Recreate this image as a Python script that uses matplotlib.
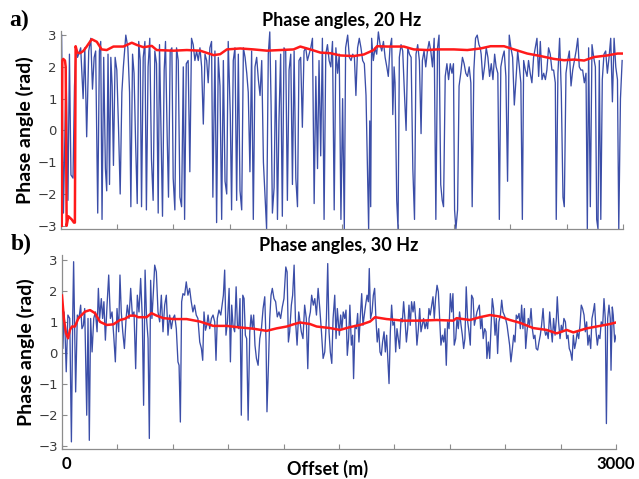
import matplotlib
matplotlib.use("Agg")
import matplotlib.pyplot as plt

# ---------------- data ----------------
# Panel a: 20 Hz, raw phase (blue)
offset_a = [3, 13, 27, 37, 45, 53, 64, 72, 80, 88,
            94, 105, 118, 127, 137, 148, 159, 168, 177, 185, 196, 205, 212, 219, 228, 237, 244, 251, 259, 266,
            273, 280, 289, 298, 307, 316, 325, 333, 346, 357, 366, 373, 382, 390, 398, 407, 415, 423, 430, 439,
            448, 456, 465, 474, 483, 492, 501, 510, 519, 526, 535, 542, 551, 558, 567, 574, 583, 592, 599, 608,
            617, 626, 635, 644, 653, 660, 669, 679, 688, 697, 706, 715, 724, 733,
            742, 751, 760, 769, 778, 786, 795, 804, 811, 822, 831, 840, 849, 858, 867, 876, 885, 893, 904, 911,
            920, 929, 938, 947, 956, 965, 974, 983, 992, 1000, 1009, 1018, 1027, 1036, 1045, 1054, 1063, 1072,
            1081, 1089, 1098, 1107, 1115, 1122, 1129, 1138, 1147, 1156, 1164, 1173, 1182, 1191, 1200, 1209, 1218,
            1227, 1236, 1245, 1254, 1263, 1271, 1280, 1289, 1298, 1307, 1316, 1325, 1334, 1343, 1352, 1361, 1370,
            1378, 1387, 1396, 1405, 1414, 1423, 1432, 1441, 1450, 1459, 1468, 1477,
            1486, 1495, 1504, 1513, 1520, 1531, 1540, 1549, 1558, 1567, 1575, 1584, 1593, 1602, 1611, 1620, 1629,
            1638, 1643, 1649, 1654, 1659, 1668, 1677, 1686, 1695, 1704, 1713, 1722, 1731, 1740, 1748, 1757, 1766,
            1772, 1779, 1784, 1793, 1800, 1807, 1816, 1825, 1834, 1843, 1852, 1861, 1870, 1879, 1888, 1896, 1905,
            1914, 1923, 1930, 1939, 1948, 1957, 1966, 1975, 1984, 1993, 2002, 2011, 2019, 2028, 2036, 2043, 2052,
            2061, 2070, 2079, 2088, 2096, 2102, 2109, 2118, 2126, 2135, 2144, 2153, 2162, 2171, 2180, 2189, 2196,
            2205, 2214, 2223, 2232, 2239,
            2244, 2253, 2262, 2271, 2280, 2289, 2298, 2307, 2316, 2324, 2333, 2341, 2349, 2358, 2367, 2376, 2385,
            2394, 2403, 2412, 2421, 2430, 2439, 2448, 2456, 2464, 2471, 2480, 2489, 2497, 2506, 2515, 2524, 2533,
            2542, 2551, 2560, 2569, 2578, 2587, 2595, 2604, 2613, 2622, 2631, 2640, 2645, 2654, 2663, 2672, 2681,
            2688, 2697, 2706, 2715, 2724, 2733, 2742, 2751, 2760, 2768, 2777, 2786, 2795, 2804, 2811, 2818, 2827,
            2836, 2845, 2854, 2861, 2868, 2875, 2883, 2891, 2900, 2909, 2918, 2927, 2936, 2945, 2954, 2963, 2972,
            2979, 2988, 2997]
phase_a = [3.0, -2.6, 1.9, -2.2, 2.4, -1.4, -1.5, 1.4, 2.6, 2.3,
           2.4, 2.6, 1.0, 2.6, -0.2, 2.5, 2.9, 1.3, 2.3, 2.5, -2.6, 2.5, 2.8, -2.8, 2.3, -1.2, -1.9, 2.4, -1.7, 2.3,
           1.4, -1.1, 2.3, 1.9, 0.1, -2.0, 1.2, 2.0, 3.0, 2.6, 1.2, -2.4, 2.4, 1.8, -0.3, -2.3, 2.8, 2.2, -2.4, 2.3,
           2.8, -2.5, 2.0, 2.9, -0.9, -2.2, 2.5, 2.1, -2.6, 2.7, -0.3, -2.7, 1.9, 2.8, -0.2, -2.1, 2.5, 2.6, -1.5, -2.5,
           2.6, 2.2, -2.1, -2.4, 2.0, -2.8, 2.1, 2.2, -1.3, 2.9, 2.7, 2.2, 2.5, 2.2,
           2.6, 2.0, 0.2, 2.4, 2.2, 1.5, 2.6, 2.8, -2.1, 2.5, -2.9, 2.3, 1.4, -2.8, 2.2, -1.6, -2.0, 2.8, 0.5, -2.5,
           2.2, 2.6, -2.2, 2.4, -1.9, -2.5, 2.6, 2.3, 1.8, 1.2, -1.3, 2.5, -2.8, 2.0, 2.3, 1.6, 1.1, 2.2,
           -1.0, -2.0, -3.1, 2.4, 3.1, 0.8, -2.6, -1.8, 2.2, -2.8, 0.3, 2.4, -2.7, 2.6, 2.5, -2.2, 1.9,
           2.4, -1.7, 2.5, -1.5, -2.4, 2.2, 2.3, 0.1, 2.5, 2.6, 2.2, 2.4, 2.6, 2.9, -2.3, 1.7, -1.2,
           2.2, -0.8, 2.9, -2.8, 2.4, 2.7, 2.2, 2.0, 2.8, -2.5, 2.6, 1.8,
           2.4, -2.8, 1.0, -3.1, 2.6, 3.0, 2.3, 2.2, 2.4, 2.3, 1.1, 2.6, 2.9, 2.6, 2.2, 2.1, 1.1,
           -1.6, -3.1, 0.3, -2.4, 2.9, 2.2, 2.6, 2.4, 3.1, 2.7, 2.5, 2.8, 2.3, 2.0, 1.7, 2.6, 2.9,
           0.5, 2.0, 1.5, -2.2, -3.1, 2.3, 2.7, 2.5, 1.2, 0.0, 2.6, 2.4, 2.3, -1.2, -2.8, 2.4, 2.7,
           2.2, -0.1, 2.2, 2.5, 2.0, 2.5, 2.8, 2.5, 2.0, 2.9, -2.8, 2.6, 3.0, -1.7, -2.2, -2.4, 1.7,
           2.1, 1.6, 2.1, 1.8, 2.1, -2.5, -3.1, -2.5, 1.4, 1.8, 2.3, 2.1, 1.8, 1.7, 2.0, 1.5, -2.4,
           1.9, 2.9, 3.0, 2.7, 2.6,
           2.4, 1.6, 2.0, 2.6, 2.3, 1.7, 2.1, 1.6, 2.4, 2.0, 1.8, -2.8, 2.0, 2.3, 2.5, 1.7, -1.6,
           3.0, 2.6, 2.3, 0.8, 1.6, 2.5, 2.0, 1.5, -2.8, 2.2, 1.9, 1.7, 2.2, 1.8, 1.5, 2.3, 2.6,
           2.9, 1.7, 2.8, 1.6, 1.8, 1.6, 1.9, 2.6, 2.4, 1.9, 1.9, 1.5, -2.8, 1.8, 2.9, 1.2, -2.1,
           -2.4, 1.8, 2.2, 2.5, 1.4, 1.9, 2.2, 2.5, 2.9, 2.0, 1.9, 1.9, 1.5, 1.8, -3.1, 2.6, -2.4,
           2.7, 2.3, 2.0, -2.8, -3.1, 2.2, -2.8, 1.6, 2.4, 2.5, 1.8, 2.3, 2.9, 0.9, 2.9, 2.0, 1.6,
           -3.1, 1.0, 2.2]

# Panel a: smoothed phase (red)
offset_a_smooth = [4, 7, 12, 21, 25, 30, 39, 57, 69, 74, 78, 87, 101, 119, 137, 164, 191, 217, 244, 280, 333,
                   378, 405, 440, 485, 511, 601, 672, 743, 815, 850, 886, 957, 1028, 1100, 1171, 1242, 1278,
                   1331, 1385, 1439, 1492, 1563, 1617, 1670, 1688, 1742, 1831, 1884, 1956, 2009, 2098, 2170,
                   2241, 2294, 2366, 2419, 2490, 2562, 2633, 2687, 2740, 2794, 2847, 2918, 2972, 3000]
smooth_a = [-3.0, 2.2, 2.25, 2.2, 2.0, -3.0, -2.7, -2.8, -2.9, -2.9, 2.65, 2.45, 2.43, 2.5, 2.64, 2.87, 2.79,
            2.55, 2.53, 2.64, 2.64, 2.76, 2.69, 2.62, 2.66, 2.53, 2.51, 2.53, 2.51, 2.37, 2.40, 2.55, 2.58,
            2.55, 2.51, 2.53, 2.55, 2.64, 2.55, 2.45, 2.43, 2.36, 2.34, 2.39, 2.53, 2.65, 2.64, 2.64, 2.55,
            2.53, 2.55, 2.55, 2.53, 2.58, 2.65, 2.65, 2.55, 2.42, 2.34, 2.25, 2.21, 2.23, 2.20, 2.31, 2.36,
            2.42, 2.42]

# Panel b: 30 Hz, raw phase (blue)
offset_b = [0, 5, 11, 16, 23, 32, 42, 51, 58, 63, 74, 83, 92, 101, 108, 116, 123, 134, 141, 148, 155, 163,
            172, 181, 190, 197, 204, 213, 220, 227, 235, 244, 253, 262, 271, 280, 289, 298, 307, 314, 321, 329,
            338, 347, 354, 363, 372, 381, 390, 399, 408, 417, 426, 435, 442, 450, 458, 466, 473, 480, 487, 495,
            502, 511, 520, 529, 538, 547, 556, 565, 574, 583, 592, 601, 610, 619, 628, 634, 641, 648, 655, 664,
            673, 682, 691, 700, 709, 718, 727, 736,
            746, 755, 762, 769, 777, 784, 791, 800, 809, 818, 827, 834, 841, 850, 860, 867, 874, 881, 888, 896,
            905, 912, 919, 926, 935, 943, 950, 957, 964, 971, 979, 986, 993, 1000, 1008, 1017, 1024, 1031, 1038,
            1045, 1053, 1062, 1071, 1080, 1089, 1098, 1105, 1110, 1118, 1125, 1132, 1139, 1148, 1157, 1166,
            1175, 1184, 1193, 1202, 1212, 1219, 1226, 1233, 1242, 1249, 1257, 1264, 1273, 1282, 1289, 1296,
            1305, 1314, 1323, 1331, 1338, 1345, 1352, 1361, 1369, 1378, 1387, 1396, 1405, 1414, 1423, 1432,
            1439, 1446, 1453, 1461, 1468, 1477, 1484, 1491,
            1502, 1509, 1516, 1523, 1531, 1538, 1545, 1552, 1559, 1567, 1574, 1579, 1587, 1594, 1601, 1608,
            1615, 1623, 1630, 1637, 1644, 1652, 1659, 1664, 1671, 1679, 1686, 1693, 1700, 1707, 1715, 1722,
            1729, 1736, 1744, 1751, 1758, 1765, 1771, 1778, 1785, 1792, 1800, 1807, 1814, 1821, 1828, 1836,
            1843, 1850, 1857, 1865, 1872, 1879, 1886, 1893, 1901, 1908, 1915, 1922, 1930, 1937, 1944, 1951,
            1958, 1966, 1973, 1980, 1987, 1994, 2002, 2009, 2016, 2023, 2031, 2038, 2045, 2052, 2060, 2067,
            2074, 2081, 2088, 2096, 2103, 2110, 2117, 2124, 2132, 2139, 2146, 2153, 2161, 2168, 2175, 2182,
            2189, 2197, 2204, 2211, 2218, 2226, 2233, 2240, 2247,
            2260, 2267, 2274, 2281, 2289, 2296, 2301, 2309, 2316, 2323, 2330, 2337, 2345, 2352, 2359, 2366,
            2374, 2381, 2388, 2395, 2402, 2410, 2417, 2424, 2431, 2439, 2446, 2453, 2460, 2467, 2475, 2482,
            2489, 2496, 2504, 2511, 2518, 2525, 2532, 2540, 2547, 2554, 2561, 2568, 2576, 2583, 2590, 2597,
            2605, 2612, 2619, 2626, 2633, 2641, 2648, 2655, 2662, 2670, 2677, 2682, 2689, 2697, 2704, 2711,
            2718, 2726, 2733, 2740, 2747, 2754, 2762, 2769, 2776, 2783, 2790, 2798, 2805, 2812, 2819, 2827,
            2834, 2841, 2848, 2855, 2863, 2870, 2877, 2884, 2892, 2899, 2906, 2913, 2920, 2928, 2935, 2942,
            2948, 2955, 2962, 2969, 2973, 2980, 2985, 2993, 3000]
phase_b = [2.18, 0.14, 1.32, 0.78, -0.61, 1.22, 1.11, -2.87, 1.11, 2.94, -1.26, 1.22, 1.11, 1.54, 0.78, 0.89,
           1.43, -2.01, 1.11, -2.82, 1.11, 0.03, 1.11, 1.32, 0.68, 2.08, 1.11, 1.75, 1.11, 1.65, 0.41, 1.54,
           2.51, 1.11, 1.32, 0.57, -0.29, 1.43, 0.68, 2.51, 1.32, 0.68, 0.14, 1.11, 1.54, 1.11, 2.08, 1.22,
           1.32, -0.51, 1.86, 1.32, 2.40, 1.11, -1.69, 2.67, 1.11, 0.46, -2.76, 2.34, 1.11, 1.97, 2.83, 2.61,
           1.32, 1.00, 1.86, 0.68, 1.54, 1.86, 0.57, 1.22, 0.78, 1.11, 1.22, 0.78, -0.29, -0.40, -2.23, 1.65,
           1.91, 1.86, 2.29, 1.86, 2.08, 1.65, 1.32, 1.54, 1.22, 1.11,
           0.35, 0.14, -0.24, 1.32, 0.73, 0.89, 1.22, 0.78, 1.11, 1.22, 1.00, -0.24, 1.11, 1.38, 1.22, 1.54,
           1.86, 2.67, 0.57, 1.00, 2.08, -0.29, 1.54, 0.89, 0.68, 2.13, 0.89, 0.78, 1.75, -2.01, 1.86, 1.75,
           0.57, 0.46, -2.17, 0.68, 1.22, 0.78, 1.22, 0.25, -0.18, -0.40, 0.46, 0.78, 1.43, 1.81, 0.35, -1.90,
           -0.40, 1.11, 1.86, 2.08, 1.75, 1.65, 1.16, 1.32, 1.11, 1.48, 1.75, 2.77, 2.61, 0.35, 0.68, 1.54,
           1.86, 2.83, 1.11, 0.25, 1.32, 1.00, 0.68, 0.46, 1.54, 1.11, -0.51, 1.11, 1.32, 1.86, 1.54, 1.75,
           1.22, 2.08, 1.43, 0.68, -0.18, 0.03, 1.11, 2.88, 0.68, 0.03, -0.34, 1.11, 1.86, 0.46, 1.43,
           0.57, 1.22, 0.78, 1.32, 1.11, 1.38, -0.08, 0.46, 1.54, 0.25, 0.57, -0.83, 0.89, 0.78, 1.27, 0.35,
           1.11, 1.91, 0.89, 1.22, 1.54, 1.86, 1.65, 2.72, 1.11, 1.32, 1.86, 2.08, 1.11, 0.35, 0.78, 0.03,
           -0.08, 0.35, 0.68, 0.03, 0.57, -0.29, -0.99, 0.68, 1.54, 0.89, 1.00, 0.03, 0.78, 0.46, 0.14, 1.11,
           1.00, 1.65, 1.11, 0.35, 0.78, 1.54, 0.89, 1.65, 1.32, 1.65, 1.11, 0.25, 0.78, 1.43, 0.68, 0.89,
           1.11, 0.78, 1.00, 0.78, 1.43, 1.22, 1.54, 1.81, 1.11, 1.75, 2.18, 1.97, 1.11, 0.25, 0.57, 0.35,
           0.78, -0.40, 1.00, 0.78, 1.91, 1.32, 1.91, 0.25, 0.46, 1.11, 0.78, 1.32, 0.89, 0.57, 0.14, 0.46,
           2.13, 1.00, 0.68, 0.25, 1.86, 1.75, 0.89, 1.11, 1.32,
           1.54, 0.78, 1.11, 0.46, 0.78, 0.68, -0.18, 0.35, -0.18, 0.78, 1.75, 1.43, 0.57, 1.11, -0.02, 1.00,
           1.22, 1.70, 1.32, 1.22, 1.11, 0.89, 0.57, 0.25, -0.29, 0.14, 0.57, 0.35, 1.22, 1.11, 1.27, 0.78,
           1.54, 0.78, 1.43, 0.14, 0.68, 1.11, 0.89, 1.43, 0.78, 0.46, 0.57, 0.14, 0.09, 0.35, 0.57, 0.89,
           1.43, 0.78, 0.57, 0.68, 0.46, 1.32, 0.78, 0.35, 1.11, 0.57, 1.11, 1.81, 1.00, 0.46, 0.89, 0.68,
           1.11, 1.00, 0.46, 0.57, 0.14, 0.03, -0.24, 0.57, 0.14, 0.35, 0.68, 0.46, 0.89, 1.54, 1.43, 1.22,
           0.68, 1.00, 0.25, 0.57, 0.14, 1.11, 1.32, 1.59, 0.68, 0.25, 0.57, 0.46, 1.00, 0.89, 1.75, 1.11,
           -2.28, 1.11, 1.54, 1.11, -0.56, 1.48, 1.22, 0.35, 0.57]

# Panel b: smoothed phase (red)
offset_b_smooth = [0, 11, 22, 33, 43, 54, 70, 89, 125, 152, 179, 206, 242, 278, 314, 341, 368, 395, 413, 458,
                   485, 513, 549, 603, 675, 747, 819, 892, 964, 1036, 1108, 1162, 1217, 1253, 1289, 1343, 1379,
                   1451, 1505, 1559, 1614, 1668, 1695, 1758, 1848, 1939, 2029, 2119, 2137, 2209, 2263, 2318,
                   2372, 2426, 2480, 2552, 2624, 2679, 2733, 2769, 2841, 2913, 2967, 3000]
smooth_b = [1.85, 1.06, 0.63, 0.47, 0.74, 0.85, 0.85, 1.12, 1.33, 1.38, 1.28, 1.00, 0.90, 0.92, 1.06, 1.10,
            1.20, 1.20, 1.15, 1.15, 1.28, 1.20, 1.12, 1.09, 1.09, 1.01, 0.87, 0.87, 0.82, 0.78, 0.71, 0.79,
            0.85, 0.92, 0.98, 0.93, 0.85, 0.80, 0.74, 0.83, 0.90, 1.01, 1.15, 1.09, 1.04, 1.04, 1.06, 1.04,
            1.12, 1.06, 1.15, 1.22, 1.17, 1.06, 0.97, 0.80, 0.74, 0.63, 0.74, 0.66, 0.79, 0.87, 0.93, 0.98]

titles = ["Phase angles, 20 Hz", "Phase angles, 30 Hz"]
panel_tags = ["a)", "b)"]
x_ticks = [0, 300, 600, 900, 1200, 1500, 1800, 2100, 2400, 2700, 3000]
y_ticks = [-3, -2, -1, 0, 1, 2, 3]

# ---------------- styling ----------------
BLUE = "#3b4ea8"
RED = "#ff1a1a"
SPINE = "#8c8c8c"
LABEL_FONT = ["Lato", "DejaVu Sans"]

fig = plt.figure(figsize=(6.39, 4.79), dpi=100)
ax_a = fig.add_axes([0.0955, 0.522, 0.879, 0.414])
ax_b = fig.add_axes([0.097, 0.0626, 0.867, 0.404])

panels = [
    (ax_a, offset_a, phase_a, offset_a_smooth, smooth_a),
    (ax_b, offset_b, phase_b, offset_b_smooth, smooth_b),
]

for i, (ax, xo, yv, xs, ys) in enumerate(panels):
    ax.plot(xo, yv, color=BLUE, lw=0.95, zorder=2)
    ax.plot(xs, ys, color=RED, lw=1.8, zorder=3)
    ax.set_xlim(0, 3000)
    ax.set_ylim(-3.1, 3.14)
    for s in ("top", "right"):
        ax.spines[s].set_visible(False)
    for s in ("left", "bottom"):
        ax.spines[s].set_color(SPINE)
        ax.spines[s].set_linewidth(0.9)
    ax.set_xticks(x_ticks)
    ax.set_yticks(y_ticks)
    ax.set_yticklabels([f"\u2212{abs(t)}" if t < 0 else str(t) for t in y_ticks],
                       fontsize=9.5, color="#3a3a3a")
    ax.tick_params(axis="both", direction="in", length=3.5, width=0.8, color=SPINE, pad=3)
    ax.set_ylabel("Phase angle (rad)", fontsize=14, fontweight="bold", family=LABEL_FONT,
                  labelpad=2)
    ax.set_title(titles[i], fontsize=13, fontweight="bold", family=LABEL_FONT, pad=3)

ax_a.set_xticklabels([""] * len(x_ticks))
lbls = ["0"] + [""] * (len(x_ticks) - 2) + ["3000"]
ax_b.set_xticklabels(lbls, fontsize=12, fontweight="bold", family=LABEL_FONT)
ax_b.tick_params(axis="x", pad=5)
ax_b.get_xticklabels()[0].set_ha("left")

fig.text(0.513, 0.002, "Offset (m)", fontsize=13, fontweight="bold", family=LABEL_FONT,
         ha="center", va="bottom")

fig.text(0.015, 0.958, panel_tags[0], fontsize=17, fontweight="bold", family="Liberation Serif",
         va="center", ha="left")
fig.text(0.017, 0.49, panel_tags[1], fontsize=17, fontweight="bold", family="Liberation Serif",
         va="center", ha="left")

fig.savefig("out.png", dpi=100)
